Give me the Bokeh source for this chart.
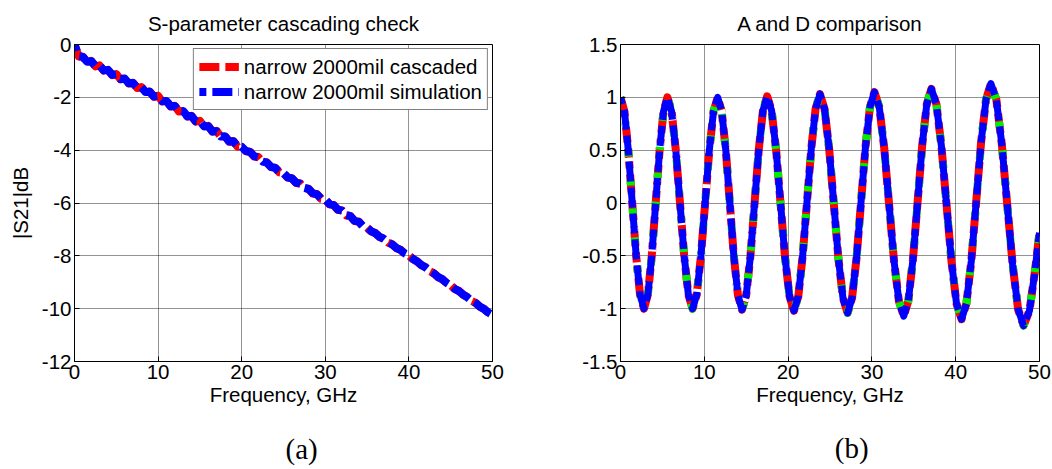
from bokeh.plotting import figure
from bokeh.layouts import row
from bokeh.models import Legend, LegendItem, FixedTicker, LinearAxis
from bokeh.embed import file_html
from bokeh.resources import INLINE

# ---------------- data: (a) S-parameter cascading check ----------------
freq_s = [0.0, 0.5, 1.0, 1.5, 2.0, 2.5, 3.0, 3.5, 4.0, 4.5, 5.0, 5.5, 6.0, 6.5, 7.0, 7.5,
          8.0, 8.5, 9.0, 9.5, 10.0, 10.5, 11.0, 11.5, 12.0, 12.5, 13.0, 13.5, 14.0, 14.5,
          15.0, 15.5, 16.0, 16.5, 17.0, 17.5, 18.0, 18.5, 19.0, 19.5, 20.0, 20.5, 21.0,
          21.5, 22.0, 22.5, 23.0, 23.5, 24.0, 24.5, 25.0, 25.5, 26.0, 26.5, 27.0, 27.5,
          28.0, 28.5, 29.0, 29.5, 30.0, 30.5, 31.0, 31.5, 32.0, 32.5, 33.0, 33.5, 34.0,
          34.5, 35.0, 35.5, 36.0, 36.5, 37.0, 37.5, 38.0, 38.5, 39.0, 39.5, 40.0, 40.5,
          41.0, 41.5, 42.0, 42.5, 43.0, 43.5, 44.0, 44.5, 45.0, 45.5, 46.0, 46.5, 47.0,
          47.5, 48.0, 48.5, 49.0, 49.5, 50.0]

s21_cascaded = [0.00, -0.45, -0.46, -0.66, -0.62, -0.83, -0.79, -0.99, -0.95, -1.16, -1.12,
                -1.32, -1.28, -1.48, -1.45, -1.65, -1.61, -1.81, -1.78, -1.98, -1.94, -2.16,
                -2.13, -2.35, -2.32, -2.54, -2.51, -2.73, -2.70, -2.92, -2.89, -3.11, -3.08,
                -3.30, -3.27, -3.49, -3.46, -3.68, -3.65, -3.87, -3.86, -4.04, -4.06, -4.24,
                -4.26, -4.44, -4.46, -4.64, -4.66, -4.84, -4.86, -5.04, -5.06, -5.24, -5.26,
                -5.44, -5.46, -5.64, -5.66, -5.84, -5.86, -6.05, -6.07, -6.26, -6.28, -6.47,
                -6.49, -6.68, -6.70, -6.89, -6.93, -7.08, -7.14, -7.29, -7.35, -7.50, -7.56,
                -7.71, -7.77, -7.92, -7.98, -8.13, -8.21, -8.36, -8.43, -8.58, -8.66, -8.81,
                -8.88, -9.03, -9.11, -9.26, -9.33, -9.48, -9.56, -9.71, -9.78, -9.93, -10.01,
                -10.16, -10.23]

s21_simulation = [0.00, -0.44, -0.47, -0.65, -0.63, -0.82, -0.80, -0.98, -0.96, -1.15, -1.13,
                  -1.31, -1.29, -1.47, -1.46, -1.64, -1.62, -1.80, -1.79, -1.97, -1.95, -2.15,
                  -2.14, -2.34, -2.33, -2.53, -2.52, -2.72, -2.71, -2.91, -2.90, -3.10, -3.09,
                  -3.29, -3.28, -3.48, -3.47, -3.67, -3.66, -3.86, -3.87, -4.03, -4.07, -4.23,
                  -4.27, -4.43, -4.47, -4.63, -4.67, -4.83, -4.87, -5.03, -5.07, -5.23, -5.27,
                  -5.43, -5.47, -5.63, -5.67, -5.83, -5.87, -6.04, -6.08, -6.25, -6.29, -6.46,
                  -6.50, -6.67, -6.71, -6.88, -6.94, -7.07, -7.15, -7.28, -7.36, -7.49, -7.57,
                  -7.70, -7.78, -7.91, -7.99, -8.12, -8.22, -8.35, -8.44, -8.57, -8.67, -8.80,
                  -8.89, -9.02, -9.12, -9.25, -9.34, -9.47, -9.57, -9.70, -9.79, -9.92, -10.02,
                  -10.15, -10.24]

# ---------------- data: (b) A and D comparison ----------------
freq_ad = [0.0, 0.47, 0.93, 1.40, 1.87, 2.33, 2.8,
           3.27, 3.73, 4.20, 4.67, 5.13, 5.6,
           6.1, 6.6, 7.1, 7.6, 8.1, 8.6,
           9.1, 9.6, 10.1, 10.6, 11.1, 11.6,
           12.08, 12.57, 13.05, 13.53, 14.02, 14.5,
           15.0, 15.5, 16.0, 16.5, 17.0, 17.5,
           18.03, 18.57, 19.1, 19.63, 20.17, 20.7,
           21.22, 21.73, 22.25, 22.77, 23.28, 23.8,
           24.35, 24.9, 25.45, 26.0, 26.55, 27.1,
           27.63, 28.17, 28.7, 29.23, 29.77, 30.3,
           30.88, 31.47, 32.05, 32.63, 33.22, 33.8,
           34.35, 34.9, 35.45, 36.0, 36.55, 37.1,
           37.7, 38.3, 38.9, 39.5, 40.1, 40.7,
           41.28, 41.87, 42.45, 43.03, 43.62, 44.2,
           44.85, 45.5, 46.15, 46.8, 47.45, 48.1,
           48.8, 49.4, 50.0]

a_param = [1.0, 0.866, 0.5, 0.0, -0.5, -0.866, -1.0,
           -0.866, -0.5, 0.0, 0.5, 0.866, 1.0,
           0.866, 0.5, 0.0, -0.5, -0.866, -1.0,
           -0.866, -0.5, 0.0, 0.5, 0.866, 1.0,
           0.865, 0.498, -0.005, -0.508, -0.875, -1.01,
           -0.875, -0.505, 0.0, 0.505, 0.875, 1.01,
           0.874, 0.503, -0.005, -0.513, -0.884, -1.02,
           -0.883, -0.508, 0.005, 0.518, 0.893, 1.03,
           0.891, 0.513, -0.005, -0.523, -0.901, -1.04,
           -0.900, -0.518, 0.005, 0.528, 0.910, 1.05,
           0.908, 0.52, -0.01, -0.54, -0.928, -1.07,
           -0.926, -0.533, 0.005, 0.543, 0.936, 1.08,
           0.934, 0.535, -0.01, -0.555, -0.954, -1.10,
           -0.951, -0.543, 0.015, 0.573, 0.981, 1.13,
           0.977, 0.558, -0.015, -0.588, -1.007, -1.16,
           -1.02, -0.68, -0.28]

d_param = [1.0, 0.866, 0.5, 0.0, -0.5, -0.866, -1.0,
           -0.866, -0.5, 0.0, 0.5, 0.866, 1.0,
           0.866, 0.5, 0.0, -0.5, -0.866, -1.0,
           -0.866, -0.5, 0.0, 0.5, 0.866, 1.0,
           0.865, 0.498, -0.005, -0.508, -0.875, -1.01,
           -0.875, -0.505, 0.0, 0.505, 0.875, 1.01,
           0.874, 0.503, -0.005, -0.513, -0.884, -1.02,
           -0.883, -0.508, 0.005, 0.518, 0.893, 1.03,
           0.891, 0.513, -0.005, -0.523, -0.901, -1.04,
           -0.900, -0.518, 0.005, 0.528, 0.910, 1.05,
           0.908, 0.52, -0.01, -0.54, -0.928, -1.07,
           -0.926, -0.533, 0.005, 0.543, 0.936, 1.08,
           0.934, 0.535, -0.01, -0.555, -0.954, -1.10,
           -0.951, -0.543, 0.015, 0.573, 0.981, 1.13,
           0.977, 0.558, -0.015, -0.588, -1.007, -1.16,
           -1.02, -0.68, -0.28]

x_ticks = [0, 10, 20, 30, 40, 50]
y_ticks_a = [-12, -10, -8, -6, -4, -2, 0]
y_ticks_b = [-1.5, -1, -0.5, 0, 0.5, 1, 1.5]
y_labels_b = ["-1.5", "-1", "-0.5", "0", "0.5", "1", "1.5"]

FONT = "Liberation Sans"
SERIF = "Liberation Serif"
FS = "20.5px"
NB = "\u00a0"


def style(p, yt, ylabels=None):
    p.xaxis.ticker = FixedTicker(ticks=x_ticks)
    p.yaxis.ticker = FixedTicker(ticks=yt)
    p.xaxis.major_label_overrides = {t: str(t) for t in x_ticks}
    if ylabels is None:
        ylabels = [str(t) for t in yt]
    p.yaxis.major_label_overrides = {t: l for t, l in zip(yt, ylabels)}
    for ax in (p.xaxis, p.yaxis):
        ax.major_label_text_font = FONT
        ax.major_label_text_font_size = FS
        ax.major_label_text_color = "black"
        ax.axis_label_text_font = FONT
        ax.axis_label_text_font_size = FS
        ax.axis_label_text_font_style = "normal"
        ax.axis_label_text_color = "black"
        ax.axis_line_color = "black"
        ax.major_tick_line_color = "black"
        ax.major_tick_in = 5
        ax.major_tick_out = 0
        ax.minor_tick_line_color = None
    p.xaxis.major_label_standoff = 3
    p.yaxis.major_label_standoff = 3
    p.xaxis.axis_label_standoff = 1
    p.yaxis.axis_label_standoff = 7
    p.grid.grid_line_color = "black"
    p.grid.grid_line_dash = "1 1"
    p.grid.grid_line_alpha = 0.85
    p.outline_line_color = "black"
    p.outline_line_alpha = 1.0
    p.outline_line_width = 1
    p.background_fill_color = "white"
    p.border_fill_color = "white"


def titles(p, top_text, caption, standoff):
    p.title.text = top_text
    p.title.align = "center"
    p.title.text_font = FONT
    p.title.text_font_size = FS
    p.title.text_font_style = "normal"
    p.title.text_color = "black"
    p.title.standoff = 19
    cap = LinearAxis(ticker=FixedTicker(ticks=[]), axis_label=caption,
                     axis_label_standoff=standoff, axis_label_text_font=SERIF,
                     axis_label_text_font_size="29px", axis_label_text_font_style="normal",
                     axis_label_text_color="black", axis_line_color=None,
                     major_tick_line_color=None, minor_tick_line_color=None,
                     major_label_text_font_size="0px", major_tick_in=0, major_tick_out=0)
    p.add_layout(cap, "below")


# ---------------- figure (a) ----------------
p1 = figure(width=526, height=469, x_range=(0, 50), y_range=(-12, 0),
            output_backend="svg", toolbar_location=None,
            min_border_left=74, min_border_right=34, min_border_top=42, min_border_bottom=108)
p1.xaxis.axis_label = "Frequency, GHz"
p1.yaxis.axis_label = "|S21|dB"
style(p1, y_ticks_a)
titles(p1, "S-parameter cascading check", NB * 5 + "(a)", 24)

r_c = p1.line(freq_s, s21_cascaded, line_color="#ff0000", line_width=8, line_dash="20 6",
              line_join="round")
r_s = p1.line(freq_s, s21_simulation, line_color="#0000ff", line_width=8, line_dash="20 6",
              line_dash_offset=13, line_join="round")

legend = Legend(items=[LegendItem(label="narrow 2000mil cascaded", renderers=[r_c]),
                       LegendItem(label="narrow 2000mil simulation", renderers=[r_s])],
                location="top_right", margin=4, padding=5, spacing=0,
                glyph_width=40, glyph_height=25, label_height=25, label_standoff=5,
                label_text_font=FONT, label_text_font_size=FS, label_text_color="black",
                border_line_color="black", border_line_width=1,
                background_fill_color="white", background_fill_alpha=1.0)
p1.add_layout(legend)

# ---------------- figure (b) ----------------
p2 = figure(width=526, height=469, x_range=(0, 50), y_range=(-1.5, 1.5),
            output_backend="svg", toolbar_location=None,
            min_border_left=94, min_border_right=13, min_border_top=42, min_border_bottom=107)
p2.xaxis.axis_label = "Frequency, GHz"
style(p2, y_ticks_b, y_labels_b)
titles(p2, "A and D comparison", NB * 6 + "(b)", 23)

p2.line(freq_ad, a_param, line_color="#ff0000", line_width=8, line_dash="20 6",
        line_join="round")
p2.line(freq_ad, d_param, line_color="#00ee00", line_width=8, line_dash="6 23",
        line_dash_offset=4, line_join="round")
p2.line(freq_ad[:34], d_param[:34], line_color="white", line_width=8, line_dash="4 31",
        line_dash_offset=9, line_join="round")
p2.line(freq_ad, a_param, line_color="#0000ff", line_width=7, line_dash="20 6",
        line_dash_offset=13, line_join="round")

layout = row(p1, p2, spacing=0)
open("out.html", "w").write(file_html(layout, INLINE))
